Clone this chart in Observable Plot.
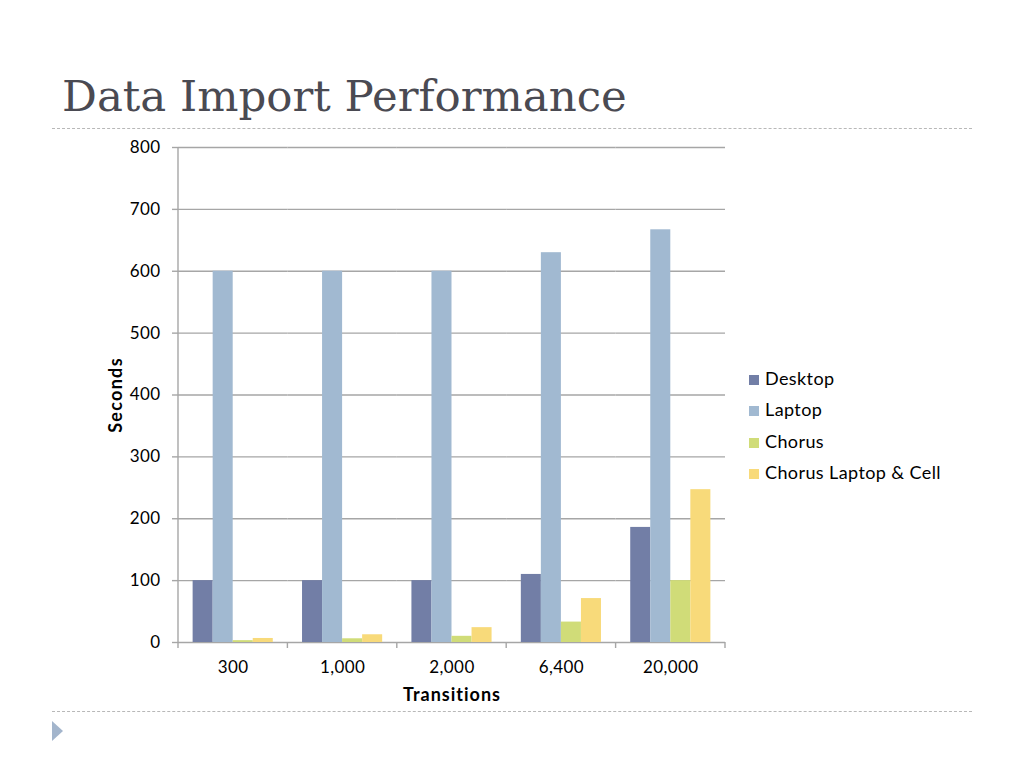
<!DOCTYPE html>
<html><head><meta charset="utf-8">
<script src="https://cdn.jsdelivr.net/npm/d3@7"></script>
<script src="https://cdn.jsdelivr.net/npm/@observablehq/plot@0.6"></script>
<style>
body{margin:0;background:#fff;}
#page{position:relative;width:1024px;height:768px;overflow:hidden;font-family:Lato,"Open Sans",sans-serif;}
#title{position:absolute;left:62px;top:75px;font-family:"DejaVu Serif",serif;font-size:43.5px;line-height:43.5px;color:#4a4a52;white-space:nowrap;}
.dash{position:absolute;left:52px;width:920px;height:0;border-top:1px dashed #b8b8b8;}
#chart{position:absolute;left:0;top:130px;}
#ylabel{position:absolute;left:115px;top:395px;transform:translate(-50%,-50%) rotate(-90deg);font-weight:bold;font-size:18px;letter-spacing:1.3px;white-space:nowrap;}
#xlabel{position:absolute;left:452px;top:694px;transform:translate(-50%,-50%);font-weight:bold;font-size:18px;letter-spacing:1px;white-space:nowrap;}
#legend{position:absolute;left:749px;top:364.5px;font-size:18px;letter-spacing:0.4px;}
.li{height:31.5px;line-height:26px;white-space:nowrap;}
.sw{display:inline-block;width:10px;height:10px;margin-right:6px;vertical-align:0px;}
#tri{position:absolute;left:52px;top:721px;width:0;height:0;border-top:10px solid transparent;border-bottom:10px solid transparent;border-left:11px solid #a3b5cc;}
</style>
</head><body>
<div id="page">
  <div id="title">Data Import Performance</div>
  <div class="dash" style="top:128px"></div>
  <div class="dash" style="top:711px"></div>
  <div id="tri"></div>
  <div id="chart"></div>
  <div id="ylabel">Seconds</div>
  <div id="xlabel">Transitions</div>
  <div id="legend"></div>
</div>
<script>
const categories = ["300", "1,000", "2,000", "6,400", "20,000"];
const seriesNames = ["Desktop", "Laptop", "Chorus", "Chorus Laptop & Cell"];
const desktop = [100, 100, 100, 110, 186];
const laptop = [600, 600, 600, 630, 667];
const chorus = [3, 6, 10, 33, 100];
const chorusLaptopCell = [6.5, 12.5, 24, 71, 247];
const seriesColors = ["#727ea6", "#a1b9d1", "#d0dc78", "#f8da7a"];
const yTicks = [0, 100, 200, 300, 400, 500, 600, 700, 800];

const seriesValues = [desktop, laptop, chorus, chorusLaptopCell];
const data = [];
categories.forEach((c, i) => {
  seriesNames.forEach((s, j) => data.push({cat: c, series: s, value: seriesValues[j][i]}));
});

const plot = Plot.plot({
  width: 1024,
  height: 560,
  marginTop: 17,
  marginBottom: 48,
  marginLeft: 178,
  marginRight: 299,
  style: {fontFamily: "Lato, 'Open Sans', sans-serif", fontSize: "17px", color: "#000", background: "transparent", letterSpacing: "0.4px"},
  fx: {domain: categories, padding: 0, round: false},
  x: {domain: seriesNames, paddingInner: 0, paddingOuter: 0.73, round: false, axis: null},
  y: {domain: [0, 800]},
  color: {domain: seriesNames, range: seriesColors},
  marks: [
    Plot.gridY(yTicks, {stroke: "#a6a6a6", strokeOpacity: 1, strokeWidth: 1.4}),
    Plot.axisY(yTicks, {tickSize: 6, tickPadding: 12, stroke: "#a6a6a6", strokeWidth: 1.4, label: null, fontSize: 17, fill: "#000"}),
    Plot.barY(data, {fx: "cat", x: "series", y: "value", fill: "series"}),
    Plot.axisFx({anchor: "bottom", tickSize: 0, tickPadding: 18, label: null, fontSize: 17, fill: "#000"})
  ]
});
document.getElementById("chart").appendChild(plot);

// axis line and category boundary ticks from the library's scales
const fx = plot.scale("fx");
const y = plot.scale("y");
const svg = d3.select(plot);
const g = svg.append("g").attr("stroke", "#a6a6a6").attr("stroke-width", 1.4);
const x0 = fx.apply(categories[0]);
const bw = fx.bandwidth;
g.append("line").attr("x1", x0).attr("x2", x0).attr("y1", y.apply(0)).attr("y2", y.apply(800));
const bounds = categories.map(c => fx.apply(c)).concat([fx.apply(categories[categories.length - 1]) + bw]);
bounds.forEach(b => g.append("line").attr("x1", b).attr("x2", b).attr("y1", y.apply(0)).attr("y2", y.apply(0) + 6));

const legend = document.getElementById("legend");
seriesNames.forEach((s, i) => {
  const d = document.createElement("div");
  d.className = "li";
  d.innerHTML = `<span class="sw" style="background:${seriesColors[i]}"></span>`;
  d.appendChild(document.createTextNode(s));
  legend.appendChild(d);
});
</script>
</body></html>
